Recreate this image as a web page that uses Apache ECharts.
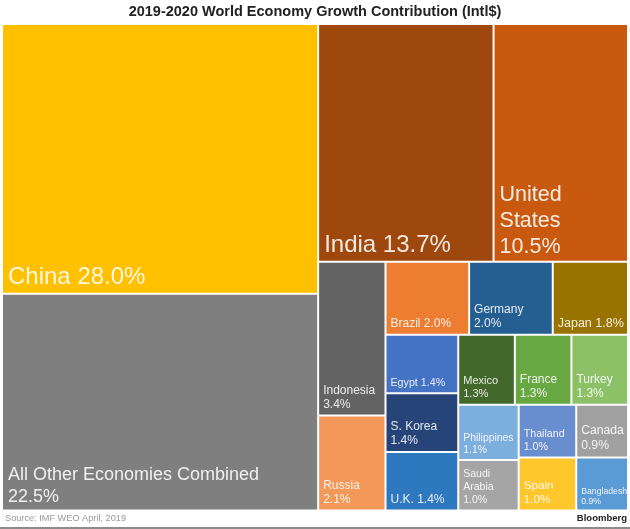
<!DOCTYPE html>
<html>
<head>
<meta charset="utf-8">
<style>html,body{margin:0;padding:0;background:#fff}#main{width:630px;height:529px}</style>
<script src="https://cdn.jsdelivr.net/npm/echarts@6/dist/echarts.min.js"></script>
</head>
<body>
<div id="main"></div>
<script>
var categories = ['China', 'All Other Economies Combined', 'India', 'United States', 'Indonesia', 'Russia',
  'Brazil', 'Germany', 'Japan', 'Egypt', 'S. Korea', 'U.K.', 'Mexico', 'France', 'Turkey',
  'Philippines', 'Saudi Arabia', 'Thailand', 'Spain', 'Canada', 'Bangladesh'];
var shares = [28.0, 22.5, 13.7, 10.5, 3.4, 2.1, 2.0, 2.0, 1.8, 1.4, 1.4, 1.4, 1.3, 1.3, 1.3, 1.1, 1.0, 1.0, 1.0, 0.9, 0.9];
var colors = ['#ffc000', '#7f7f7f', '#9e480e', '#c8590f', '#636363', '#f4985a', '#ed7d31', '#255e91', '#997300',
  '#4472c4', '#264478', '#2e78c0', '#43682b', '#68a843', '#8cc168', '#7cafdd', '#a5a5a5', '#698ed0', '#ffc72c', '#a0a0a0', '#5b9bd5'];
var fontSizes = [24, 18, 24, 21.5, 12, 12, 12, 12, 12.5, 10.7, 12, 12, 11, 12, 12, 10.4, 10.5, 10.7, 11.7, 12.2, 8.7];
var valueOnNewLine = ['All Other Economies Combined', 'United States', 'Indonesia', 'Russia', 'Germany', 'S. Korea',
  'Mexico', 'France', 'Turkey', 'Philippines', 'Saudi Arabia', 'Thailand', 'Spain', 'Canada', 'Bangladesh'];
var wrappedNames = {'United States': 'United\nStates', 'Saudi Arabia': 'Saudi\nArabia'};

// nesting keeps the blocks where the original has them
var group7 = ['Canada', 'Bangladesh'];
var group6 = ['Thailand', 'Spain', group7];
var group5 = ['Philippines', 'Saudi Arabia', group6];
var group4 = ['Mexico', 'France', 'Turkey', group5];
var group3 = ['Egypt', 'S. Korea', 'U.K.', group4];
var group2 = ['Brazil', 'Germany', 'Japan', group3];
var group1 = ['Indonesia', 'Russia', group2];
var rightSide = ['India', 'United States', group1];
var layoutTree = ['China', 'All Other Economies Combined', rightSide];

var buildNode = function (item) {
  if (Array.isArray(item)) {
    return {children: item.map(buildNode)};
  }
  var i = categories.indexOf(item);
  var sep = valueOnNewLine.indexOf(item) >= 0 ? '\n' : ' ';
  var big = fontSizes[i] >= 18;
  return {
    name: item,
    value: shares[i],
    itemStyle: {color: colors[i]},
    label: {
      formatter: (wrappedNames[item] || item) + sep + shares[i].toFixed(1) + '%',
      fontSize: fontSizes[i],
      lineHeight: Math.round(fontSizes[i] * 1.2),
      distance: big ? 1 : 3,
      padding: [0, 0, 0, big ? 4 : 1]
    }
  };
};

var option = {
  backgroundColor: '#fff',
  animation: false,
  textStyle: {fontFamily: '"Liberation Sans", Arial, sans-serif'},
  title: [
    {
      text: '2019-2020 World Economy Growth Contribution (Intl$)',
      left: 'center',
      top: 4,
      padding: 0,
      textStyle: {fontSize: 14.5, fontWeight: 'bold', color: '#222', fontFamily: '"Liberation Sans"'}
    },
    {
      text: 'Source: IMF WEO April, 2019',
      left: 5,
      top: 514,
      padding: 0,
      textStyle: {fontSize: 9.2, fontWeight: 'normal', color: '#999', fontFamily: '"Liberation Sans"'}
    },
    {
      text: 'Bloomberg',
      right: 3,
      top: 513,
      padding: 0,
      textStyle: {fontSize: 9.5, fontWeight: 'bold', color: '#222', fontFamily: '"Liberation Sans"'}
    }
  ],
  graphic: [{
    type: 'rect',
    shape: {x: 0, y: 527, width: 630, height: 2},
    style: {fill: '#8c8c8c'}
  }],
  series: [{
    type: 'treemap',
    left: 3,
    top: 25,
    width: 624,
    height: 484.5,
    sort: false,
    roam: false,
    nodeClick: false,
    silent: true,
    breadcrumb: {show: false},
    itemStyle: {borderWidth: 0, gapWidth: 2, borderColor: '#fff'},
    label: {
      show: true,
      position: 'insideBottomLeft',
      overflow: 'none',
      color: 'rgba(255,255,255,0.88)',
      fontFamily: '"Liberation Sans"'
    },
    data: layoutTree.map(buildNode)
  }]
};

var myChart = echarts.init(document.getElementById('main'));
myChart.setOption(option);
</script>
</body>
</html>
